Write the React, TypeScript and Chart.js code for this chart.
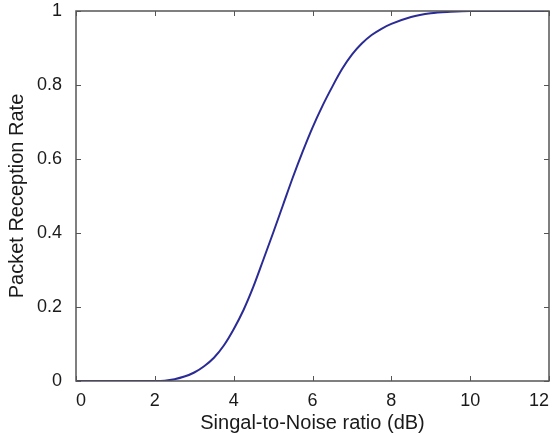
import React, { useEffect, useRef } from "react";
import { Chart, registerables } from "chart.js";

Chart.register(...registerables);

const snrValues = [0, 0.5, 1, 1.5, 2, 2.25, 2.5, 2.75, 3, 3.25, 3.5, 3.75, 4, 4.25, 4.5, 4.75, 5, 5.25, 5.5, 5.75, 6, 6.25, 6.5, 6.75, 7, 7.25, 7.5, 7.75, 8, 8.5, 9, 9.5, 10, 11, 12];
const prrValues = [0, 0, 0, 0, 0, 0.001, 0.005, 0.012, 0.023, 0.04, 0.063, 0.096, 0.14, 0.192, 0.255, 0.327, 0.4, 0.475, 0.55, 0.62, 0.685, 0.743, 0.795, 0.843, 0.882, 0.912, 0.935, 0.952, 0.965, 0.984, 0.994, 0.998, 1, 1, 1];
const xTicks = [0, 2, 4, 6, 8, 10, 12];
const yTicks = [0, 0.2, 0.4, 0.6, 0.8, 1];
const xTitle = "Singal-to-Noise ratio (dB)";
const yTitle = "Packet Reception Rate";

const boxPlugin = {
  id: "matlabBox",
  afterDraw(chart: any) {
    const { ctx, chartArea } = chart;
    const { left, right, top, bottom } = chartArea;
    const xs = chart.scales.x;
    const ys = chart.scales.y;
    ctx.save();
    ctx.strokeStyle = "#555555";
    ctx.lineWidth = 1;
    ctx.beginPath();
    const tl = 5;
    xTicks.forEach((v) => {
      const px = Math.round(xs.getPixelForValue(v)) + 0.5;
      ctx.moveTo(px, bottom);
      ctx.lineTo(px, bottom - tl);
      ctx.moveTo(px, top);
      ctx.lineTo(px, top + tl);
    });
    yTicks.forEach((v) => {
      const py = Math.round(ys.getPixelForValue(v)) + 0.5;
      ctx.moveTo(left, py);
      ctx.lineTo(left + tl, py);
      ctx.moveTo(right, py);
      ctx.lineTo(right - tl, py);
    });
    ctx.stroke();
    ctx.lineWidth = 1.5;
    ctx.strokeRect(left, top, right - left, bottom - top);
    ctx.restore();
  },
};

export default function App() {
  const ref = useRef<HTMLCanvasElement>(null);
  useEffect(() => {
    document.body.style.margin = "0";
    const chart = new Chart(ref.current!, {
      type: "line",
      data: {
        datasets: [
          {
            data: snrValues.map((x, i) => ({ x, y: prrValues[i] })),
            borderColor: "#2b2b96",
            borderWidth: 2,
            pointRadius: 0,
            cubicInterpolationMode: "monotone",
            fill: false,
          },
        ],
      },
      options: {
        animation: false,
        responsive: false,
        layout: { padding: { top: 11, right: 4, left: 0, bottom: 0 } },
        plugins: { legend: { display: false }, tooltip: { enabled: false } },
        scales: {
          x: {
            type: "linear",
            min: 0,
            max: 12,
            afterBuildTicks: (s: any) => {
              s.ticks = xTicks.map((v) => ({ value: v }));
            },
            afterFit: (s: any) => {
              s.height = 52;
              s.paddingLeft = 0;
              s.paddingRight = 0;
            },
            grid: { display: false },
            border: { display: false },
            ticks: {
              color: "#1a1a1a",
              font: { family: "Liberation Sans, Arial", size: 18 },
              padding: 1,
              align: "inner",
              maxRotation: 0,
              callback: (v: any) => String(v),
            },
            title: {
              display: true,
              text: xTitle,
              color: "#1a1a1a",
              font: { family: "Liberation Sans, Arial", size: 20 },
              padding: { top: 0, bottom: -2 },
            },
          },
          y: {
            type: "linear",
            min: 0,
            max: 1,
            afterBuildTicks: (s: any) => {
              s.ticks = yTicks.map((v) => ({ value: v }));
            },
            afterFit: (s: any) => {
              s.width = 76;
              s.paddingTop = 0;
              s.paddingBottom = 0;
            },
            grid: { display: false },
            border: { display: false },
            ticks: {
              color: "#1a1a1a",
              font: { family: "Liberation Sans, Arial", size: 18 },
              padding: 6,
              callback: (v: any) => String(Math.round(v * 10) / 10),
            },
            title: {
              display: true,
              text: yTitle,
              color: "#1a1a1a",
              font: { family: "Liberation Sans, Arial", size: 20 },
              padding: { top: 5, bottom: 0 },
            },
          },
        },
      },
      plugins: [boxPlugin],
    });
    return () => chart.destroy();
  }, []);
  return (
    <div style={{ width: 553, height: 433 }}>
      <canvas ref={ref} width={553} height={433} style={{ display: "block" }} />
    </div>
  );
}
